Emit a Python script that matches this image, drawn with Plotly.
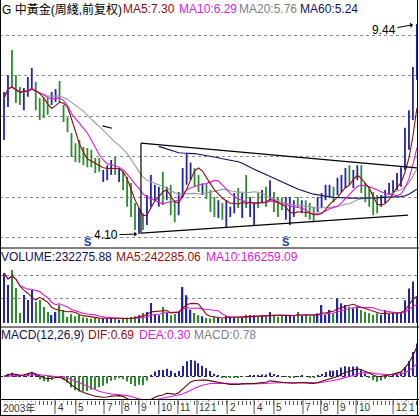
import pandas as pd
import plotly.graph_objects as go

# Weekly bars (forward-adjusted), first week of 2003 to the first weeks of 2005
opens = [6.55, 7.45, 8.60, 8.00, 7.75, 7.35, 7.65, 7.85, 7.90, 7.45,
         7.50, 7.45, 7.45, 7.50, 7.90, 7.30, 7.00, 6.60, 6.35, 6.40,
         6.25, 6.20, 6.15, 6.00, 6.00, 5.48, 5.55, 5.65, 6.00, 5.48,
         5.62, 5.45, 5.20, 4.80, 4.20, 4.58, 4.40, 4.90, 5.05, 4.90,
         5.60, 5.02, 5.28, 4.85, 4.65, 5.10, 5.45, 5.55, 5.72, 5.50,
         5.16, 5.32, 5.15, 4.95, 4.58, 4.85, 4.35, 4.58, 4.70, 5.20,
         4.60, 5.50, 4.60, 4.45, 5.05, 4.95, 5.20, 5.00, 5.10, 4.95,
         4.95, 4.55, 4.45, 4.62, 5.00, 4.70, 4.90, 4.80, 4.70, 4.72,
         4.85, 5.05, 5.10, 5.25, 5.15, 5.25, 5.35, 5.78, 5.35, 5.55,
         5.78, 5.30, 5.20, 5.10, 5.00, 4.85, 4.95, 5.12, 5.20, 5.28,
         5.35, 5.78, 6.35, 7.05, 8.10]
highs = [7.71, 8.14, 8.78, 8.14, 7.84, 7.81, 8.09, 8.32, 7.97, 7.56,
         7.58, 7.56, 7.71, 7.79, 7.99, 7.38, 7.07, 6.67, 6.41, 6.49,
         6.31, 6.29, 6.24, 6.03, 6.03, 5.73, 5.85, 5.98, 6.06, 5.78,
         5.68, 5.55, 5.40, 4.89, 4.76, 4.63, 5.09, 5.60, 5.35, 5.30,
         5.68, 5.30, 5.35, 4.96, 5.17, 5.78, 6.16, 5.91, 5.78, 5.60,
         5.37, 5.37, 5.22, 5.04, 4.96, 4.89, 4.96, 4.79, 5.14, 5.27,
         5.14, 5.60, 5.04, 4.91, 5.14, 5.22, 5.30, 5.47, 5.17, 5.04,
         5.02, 5.04, 5.04, 4.96, 5.04, 4.96, 4.96, 4.89, 4.79, 5.04,
         5.14, 5.35, 5.35, 5.30, 5.53, 5.60, 5.78, 5.85, 5.73, 5.85,
         5.85, 5.40, 5.30, 5.17, 5.09, 5.09, 5.22, 5.40, 5.47, 5.65,
         5.80, 6.80, 7.25, 8.35, 9.44]
lows = [6.49, 7.33, 7.81, 7.43, 7.38, 7.25, 7.59, 7.76, 7.25, 7.00,
        7.05, 7.13, 7.38, 7.46, 7.46, 6.95, 6.69, 6.06, 5.93, 5.91,
        5.85, 5.80, 5.80, 5.65, 5.68, 5.42, 5.47, 5.60, 5.60, 5.42,
        5.22, 4.79, 4.53, 4.20, 4.10, 4.20, 4.33, 4.79, 4.96, 4.79,
        4.84, 4.96, 4.58, 4.40, 4.58, 5.02, 5.35, 5.47, 5.30, 5.17,
        5.09, 4.99, 4.66, 4.53, 4.51, 4.46, 4.25, 4.53, 4.63, 4.76,
        4.51, 4.76, 4.53, 4.33, 4.76, 4.89, 4.79, 4.96, 4.66, 4.53,
        4.71, 4.46, 4.33, 4.53, 4.76, 4.63, 4.53, 4.46, 4.40, 4.66,
        4.76, 4.96, 5.02, 4.91, 5.09, 5.17, 5.27, 5.35, 5.27, 5.47,
        5.14, 4.91, 4.79, 4.58, 4.63, 4.79, 4.89, 5.09, 5.14, 5.22,
        5.30, 5.73, 6.24, 7.00, 8.02]
closes = [7.55, 8.02, 7.95, 7.55, 7.45, 7.70, 8.00, 8.20, 7.35, 7.10,
          7.15, 7.25, 7.62, 7.70, 7.55, 7.00, 6.75, 6.15, 6.05, 6.00,
          5.95, 5.90, 5.88, 5.72, 5.75, 5.68, 5.80, 5.92, 5.68, 5.72,
          5.30, 4.90, 4.62, 4.30, 4.68, 4.30, 5.00, 5.45, 5.28, 5.20,
          4.95, 5.22, 4.70, 4.50, 5.08, 5.75, 6.12, 5.90, 5.68, 5.45,
          5.36, 5.28, 5.10, 4.92, 4.95, 4.80, 4.95, 4.79, 4.95, 4.80,
          5.05, 4.80, 4.95, 4.82, 4.85, 5.05, 4.90, 5.25, 4.75, 4.62,
          4.73, 4.60, 4.55, 4.65, 4.78, 4.72, 4.55, 4.47, 4.42, 4.78,
          4.88, 5.06, 5.12, 4.93, 5.17, 5.55, 5.62, 5.42, 5.68, 5.70,
          5.15, 5.00, 4.80, 4.63, 4.70, 5.05, 5.18, 5.30, 5.42, 5.49,
          5.60, 6.54, 7.10, 8.20, 9.06]
volumes = [450000, 342000, 477000, 315000, 90000, 252000, 207000, 297000, 189000, 207000,
           144000, 99000, 72000, 99000, 162000, 117000, 54000, 80000, 60000, 75000,
           50000, 45000, 40000, 50000, 35000, 45000, 40000, 45000, 35000, 30000,
           35000, 50000, 55000, 60000, 70000, 90000, 100000, 180000, 80000, 70000,
           144000, 90000, 70000, 80000, 100000, 324000, 250000, 120000, 90000, 70000,
           60000, 45000, 40000, 55000, 45000, 40000, 65000, 57000, 50000, 57000,
           45000, 75000, 72000, 70000, 55000, 72000, 60000, 100000, 65000, 57000,
           72000, 65000, 72000, 60000, 100000, 65000, 72000, 60000, 72000, 87000,
           162000, 72000, 117000, 87000, 222000, 177000, 162000, 147000, 132000, 147000,
           117000, 102000, 87000, 72000, 87000, 72340, 116870, 80450, 92130, 89375.60,
           91250, 204830, 309640, 373429.42, 232275.88]

# Month labels along the time axis and the bar position where each month begins
month_labels = ["2003年", "4", "5", "7", "8", "9", "10", "11", "12",
                "1", "2", "4", "5", "7", "8", "9", "10", "12", "1"]
month_starts = [-1.0, 12.85, 18.1, 25.2, 29.7, 34.0, 39.0, 43.8, 48.6,
                51.6, 56.2, 63.0, 68.0, 75.3, 79.8, 84.1, 88.7, 98.0, 101.3]

# Horizontal reference levels of the three panels
price_grid = [4.02, 5.04, 6.06, 7.10, 8.12, 9.16]
volume_grid = [225000, 432000]

# Weeks flagged with the blue marker under the price panel
signal_bars = [21, 71]

# Hand-drawn consolidation triangle: (bar, price) end points
triangle_lines = [
    ((34.5, 4.12), (34.5, 6.41)),
    ((34.5, 6.41), (104.0, 5.78)),
    ((34.5, 4.12), (101.8, 4.58)),
    ((24.8, 6.85), (27.2, 6.79)),
]

W, H = 419, 416
FONT = "Liberation Sans, Arial, Noto Sans CJK SC, sans-serif"
UP, DOWN = "#2424a6", "#2e8b2e"
C_MA5, C_MA10, C_MA20, C_MA60 = "#8b1010", "#d81ed8", "#9a9a9a", "#101060"

n = len(closes)
idx = list(range(n))
c = pd.Series(closes, dtype=float)
v = pd.Series(volumes, dtype=float)

ma5 = c.rolling(5, min_periods=1).mean()
ma10 = c.rolling(10, min_periods=1).mean()
ma20 = c.rolling(20, min_periods=1).mean()
ma60 = c.rolling(60, min_periods=40).mean()
vma5 = v.rolling(5, min_periods=1).mean()
vma10 = v.rolling(10, min_periods=1).mean()

ema12 = c.ewm(span=12, adjust=False).mean()
ema26 = c.ewm(span=26, adjust=False).mean()
dif = ema12 - ema26
dea = dif.ewm(span=9, adjust=False).mean()
macd = 2 * (dif - dea)

rising = [cl >= op for op, cl in zip(opens, closes)]
vol_colors = [UP if r else DOWN for r in rising]
macd_colors = [UP if m >= 0 else DOWN for m in macd]


def py(pix):
    """Paper y coordinate of a pixel row counted from the top."""
    return 1 - pix / H


# x range chosen so bar i sits at pixel 4 + 3.97 * i
x0 = -4 / 3.97
x1 = x0 + W / 3.97

fig = go.Figure()
fig.add_trace(go.Ohlc(
    x=idx, open=opens, high=highs, low=lows, close=closes,
    increasing=dict(line=dict(color=UP, width=1.8)),
    decreasing=dict(line=dict(color=DOWN, width=1.8)),
    tickwidth=0.05, xaxis="x", yaxis="y", hoverinfo="skip", showlegend=False))
for series, color in [(ma20, C_MA20), (ma60, C_MA60), (ma10, C_MA10), (ma5, C_MA5)]:
    fig.add_trace(go.Scatter(x=idx, y=series, mode="lines", line=dict(color=color, width=1.1),
                             xaxis="x", yaxis="y", hoverinfo="skip", showlegend=False))

fig.add_trace(go.Bar(x=idx, y=volumes, width=0.33, marker=dict(color=vol_colors, line=dict(width=0)),
                     xaxis="x2", yaxis="y2", hoverinfo="skip", showlegend=False))
fig.add_trace(go.Scatter(x=idx, y=vma10, mode="lines", line=dict(color=C_MA10, width=1.1),
                         xaxis="x2", yaxis="y2", hoverinfo="skip", showlegend=False))
fig.add_trace(go.Scatter(x=idx, y=vma5, mode="lines", line=dict(color=C_MA5, width=1.1),
                         xaxis="x2", yaxis="y2", hoverinfo="skip", showlegend=False))

fig.add_trace(go.Bar(x=idx, y=macd, width=0.27, marker=dict(color=macd_colors, line=dict(width=0)),
                     xaxis="x3", yaxis="y3", hoverinfo="skip", showlegend=False))
fig.add_trace(go.Scatter(x=idx, y=dea, mode="lines", line=dict(color=C_MA10, width=1.1),
                         xaxis="x3", yaxis="y3", hoverinfo="skip", showlegend=False))
fig.add_trace(go.Scatter(x=idx, y=dif, mode="lines", line=dict(color="#5a0a0a", width=1.1),
                         xaxis="x3", yaxis="y3", hoverinfo="skip", showlegend=False))

xcommon = dict(range=[x0, x1], domain=[0, 1], showgrid=False, zeroline=False,
               showticklabels=False, fixedrange=True)
grid = dict(showgrid=True, griddash="dot", gridcolor="#8a8a8a", gridwidth=1,
            zeroline=False, showticklabels=False, ticks="", fixedrange=True)

shapes = []
for (xa, ya), (xb, yb) in triangle_lines:
    shapes.append(dict(type="line", xref="x", yref="y", x0=xa, y0=ya, x1=xb, y1=yb,
                       line=dict(color="#000000", width=1.2)))
# panel frame and separators
for pix in [248, 327, 399.5, 415.5]:
    shapes.append(dict(type="line", xref="paper", yref="paper", x0=0, x1=1,
                       y0=py(pix), y1=py(pix), line=dict(color="#000000", width=1)))
for xp in [0.5, 417.5]:
    shapes.append(dict(type="line", xref="paper", yref="paper", x0=xp / W, x1=xp / W,
                       y0=0, y1=1, line=dict(color="#000000", width=1)))
for ms in month_starts[1:]:
    shapes.append(dict(type="line", xref="x3", yref="paper", x0=ms, x1=ms,
                       y0=py(399.5), y1=py(414), line=dict(color="#555555", width=1)))

annotations = []


def label(segments, pix_y):
    for text, xpix, color in segments:
        annotations.append(dict(text=text, x=xpix / W, y=py(pix_y), xref="paper", yref="paper",
                                xanchor="left", yanchor="middle", showarrow=False,
                                font=dict(size=12, color=color, family=FONT)))


label([("G 中黃金(周綫,前复权)", 0, "#000000"),
       (f"MA5:{ma5.iloc[-1]:.2f}", 121, C_MA5),
       (f"MA10:{ma10.iloc[-1]:.2f}", 177, C_MA10),
       (f"MA20:{ma20.iloc[-1]:.2f}", 237, "#808080"),
       (f"MA60:{ma60.iloc[-1]:.2f}", 298, C_MA60)], 9.5)
label([(f"VOLUME:{v.iloc[-1]:.2f}", -1, "#101050"),
       (f"MA5:{vma5.iloc[-1]:.2f}", 114, C_MA5),
       (f"MA10:{vma10.iloc[-1]:.2f}", 204, C_MA10)], 257)
label([("MACD(12,26,9)", -1, "#101050"),
       (f"DIF:{dif.iloc[-1]:.2f}", 86, C_MA5),
       (f"DEA:{dea.iloc[-1]:.2f}", 137, C_MA10),
       (f"MACD:{macd.iloc[-1]:.2f}", 192, "#808080")], 335)

low_i = min(range(n), key=lambda i: lows[i])
high_i = max(range(n), key=lambda i: highs[i])
annotations.append(dict(x=low_i, y=lows[low_i], xref="x", yref="y", text=f"{lows[low_i]:.2f}",
                        showarrow=True, arrowhead=1, arrowsize=0.9, arrowwidth=1, arrowcolor="#000",
                        ax=-33, ay=1, standoff=2, font=dict(size=12, color="#000", family=FONT)))
annotations.append(dict(x=high_i, y=highs[high_i], xref="x", yref="y", text=f"{highs[high_i]:.2f}",
                        showarrow=True, arrowhead=1, arrowsize=0.9, arrowwidth=1, arrowcolor="#000",
                        ax=-33, ay=6, standoff=4, font=dict(size=12, color="#000", family=FONT)))
for b in signal_bars:
    annotations.append(dict(x=b, y=py(241.5), xref="x", yref="paper", text="<b>Ŝ</b>",
                            showarrow=False, font=dict(size=11, color="#1a3a9a", family=FONT)))
for text, ms in zip(month_labels, month_starts):
    annotations.append(dict(x=ms, y=py(407.5), xref="x3", yref="paper", text=text,
                            xanchor="left", yanchor="middle", xshift=1.5, showarrow=False,
                            bgcolor="#ffffff", borderpad=0,
                            font=dict(size=10, color="#333333", family=FONT)))

fig.update_layout(
    width=W, height=H, autosize=False,
    margin=dict(l=0, r=0, t=0, b=0, pad=0),
    paper_bgcolor="#ffffff", plot_bgcolor="#ffffff",
    font=dict(family=FONT, size=12),
    barmode="overlay", showlegend=False, hovermode=False,
    xaxis=dict(**xcommon, anchor="y", rangeslider=dict(visible=False)),
    xaxis2=dict(**xcommon, anchor="y2", matches="x"),
    xaxis3=dict(**xcommon, anchor="y3", matches="x", ticks="outside", tickvals=idx,
                ticklen=4, tickcolor="#555555", tickwidth=1),
    yaxis=dict(**grid, domain=[py(248), 1], range=[3.744, 10.051], tickvals=price_grid, anchor="x"),
    yaxis2=dict(**grid, domain=[py(327), py(248)], range=[-36000, 675000],
                tickvals=volume_grid, anchor="x2"),
    yaxis3=dict(**grid, domain=[py(399.5), py(327)], range=[-0.547, 1.166],
                tickvals=[0], anchor="x3"),
    shapes=shapes, annotations=annotations,
)
fig.layout.yaxis3.gridcolor = "#222222"

fig.write_html("out.html")
